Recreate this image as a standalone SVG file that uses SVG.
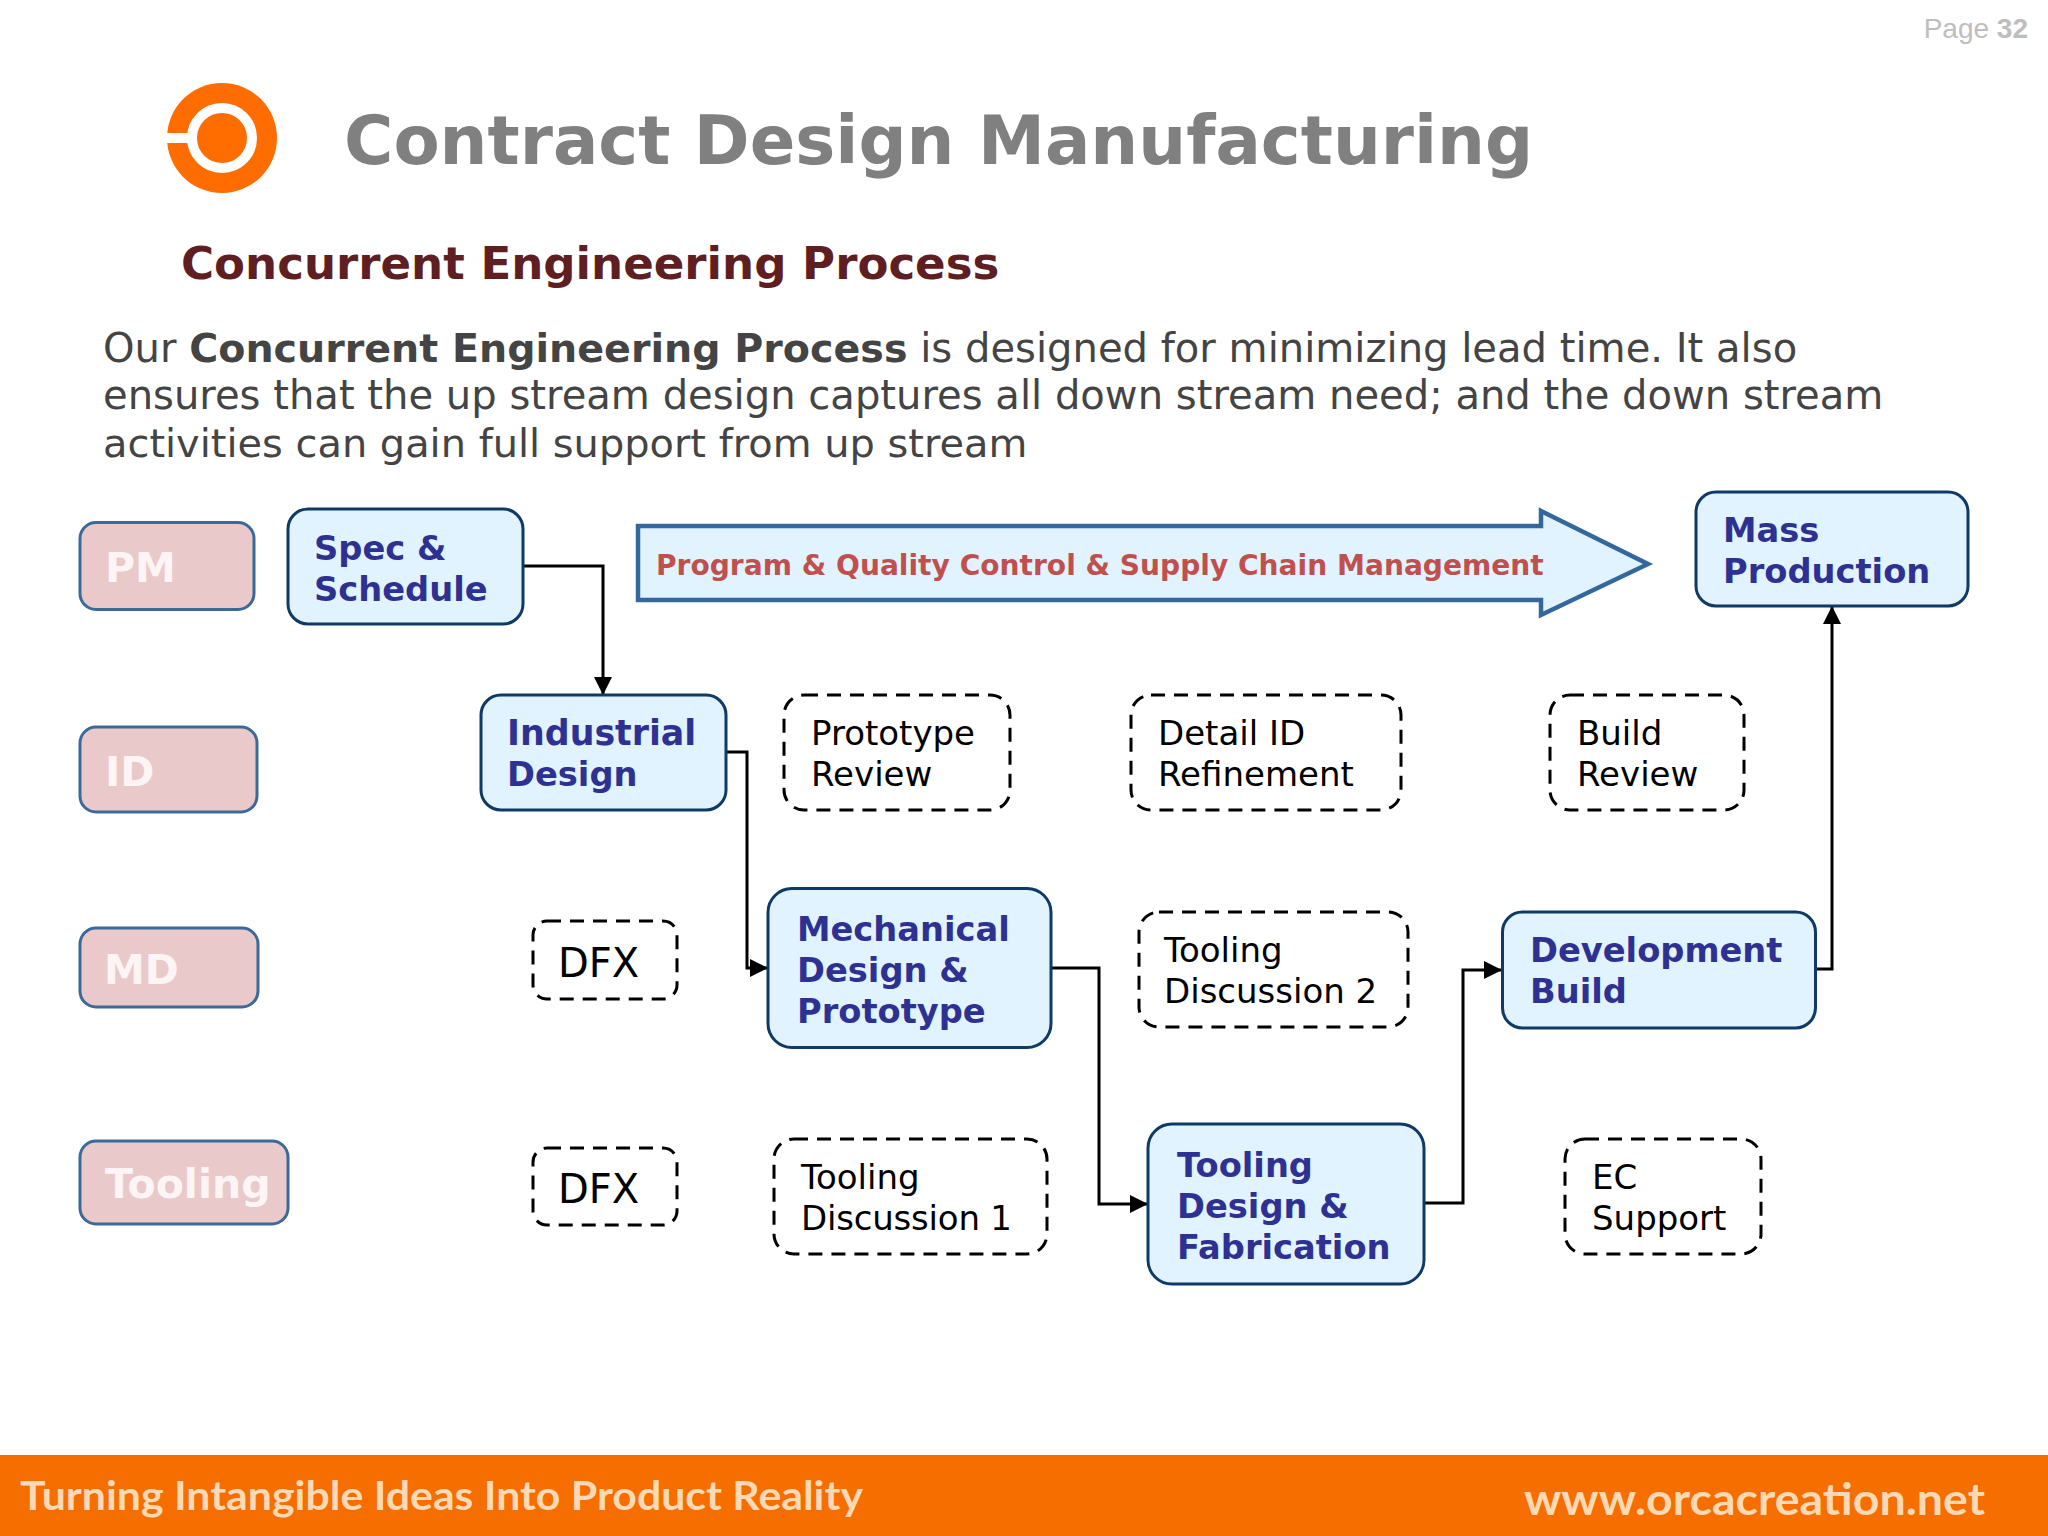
<svg xmlns="http://www.w3.org/2000/svg" width="2048" height="1536" viewBox="0 0 2048 1536">
<style>
text{font-family:"DejaVu Sans","Verdana",sans-serif}
.blue{fill:#E1F3FF;stroke:#0F3A66;stroke-width:3}
.blue-t{fill:#2E3192;font-weight:700;font-size:33.700px}
.lab{fill:#EAC9CB;stroke:#3B6A9A;stroke-width:3}
.lab-t{fill:#FDF5F5;font-weight:700;font-size:41px}
.dash{fill:#fff;stroke:#000;stroke-width:3;stroke-dasharray:14 9}
.dash-t{fill:#000;font-size:34px}
.conn{fill:none;stroke:#000;stroke-width:3}
.body{fill:#444;font-size:40.100px}
.foot{fill:#FDD9B5;font-family:"Lato","Open Sans",sans-serif;font-weight:700}
</style>
<defs>
<marker id="ah" markerUnits="userSpaceOnUse" markerWidth="18" markerHeight="18" viewBox="0 0 16 16" refX="16" refY="8" orient="auto"><path d="M0 0L16 8L0 16Z" fill="#000"/></marker>
</defs>
<rect width="2048" height="1536" fill="#fff"/>
<text x="2028" y="38" text-anchor="end" style="font-family:'Liberation Sans',sans-serif;font-size:28px;fill:#BEBEBE">Page <tspan font-weight="700">32</tspan></text>
<g id="logo">
<circle cx="222" cy="138" r="55" fill="#FF6D00"/>
<circle cx="222" cy="138" r="30" fill="none" stroke="#fff" stroke-width="10"/>
<rect x="165" y="133" width="27" height="10" fill="#fff"/>
</g>
<text x="344" y="164" style="font-size:67.300px;font-weight:700;fill:#808080">Contract Design Manufacturing</text>
<text x="181" y="279" style="font-size:45.100px;font-weight:700;fill:#5F1F22">Concurrent Engineering Process</text>
<text class="body" x="103" y="362">Our <tspan font-weight="700" font-size="39.600">Concurrent Engineering Process</tspan> is designed for minimizing lead time. It also</text>
<text class="body" x="103" y="409">ensures that the up stream design captures all down stream need; and the down stream</text>
<text class="body" x="103" y="457" style="font-size:39.900px">activities can gain full support from up stream</text>

<g id="connectors">
<path class="conn" marker-end="url(#ah)" d="M523 566H603V695"/>
<path class="conn" marker-end="url(#ah)" d="M726 752H747V968H768"/>
<path class="conn" marker-end="url(#ah)" d="M1051 968H1099V1204H1148"/>
<path class="conn" marker-end="url(#ah)" d="M1424 1203H1463V970H1502"/>
<path class="conn" marker-end="url(#ah)" d="M1815 969H1832V606"/>
</g>

<g id="label-pm"><rect class="lab" x="80" y="522.500" width="174" height="87" rx="16"/><text class="lab-t" x="105" y="582">PM</text></g>
<g id="label-id"><rect class="lab" x="80" y="727" width="177" height="85" rx="16"/><text class="lab-t" x="105" y="786">ID</text></g>
<g id="label-md"><rect class="lab" x="80" y="928" width="178" height="79" rx="16"/><text class="lab-t" x="104" y="984">MD</text></g>
<g id="label-tooling"><rect class="lab" x="80" y="1141" width="208" height="83" rx="16"/><text class="lab-t" x="105" y="1198">Tooling</text></g>

<g id="spec"><rect class="blue" x="288" y="509" width="235" height="115" rx="20"/><text class="blue-t" x="314" y="560">Spec &amp;</text><text class="blue-t" x="314" y="601">Schedule</text></g>
<g id="program"><path d="M638 526H1541V511L1648 564L1541 615V600H638Z" fill="#E1F3FF" stroke="#34689C" stroke-width="4.500"/><text x="656" y="575" style="font-size:28.100px;font-weight:700;fill:#C0504D">Program &amp; Quality Control &amp; Supply Chain Management</text></g>
<g id="mass"><rect class="blue" x="1696" y="492" width="272" height="114" rx="20"/><text class="blue-t" x="1723" y="542">Mass</text><text class="blue-t" x="1723" y="583">Production</text></g>
<g id="industrial"><rect class="blue" x="481" y="695" width="245" height="115" rx="20"/><text class="blue-t" x="507" y="745" style="font-size:34.800px">Industrial</text><text class="blue-t" x="507" y="786">Design</text></g>
<g id="proto"><rect class="dash" x="784" y="695" width="226" height="115" rx="20"/><text class="dash-t" x="811" y="745">Prototype</text><text class="dash-t" x="811" y="786">Review</text></g>
<g id="detail"><rect class="dash" x="1131" y="695" width="270" height="115" rx="20"/><text class="dash-t" x="1158" y="745">Detail ID</text><text class="dash-t" x="1158" y="786">Refinement</text></g>
<g id="build"><rect class="dash" x="1550" y="695" width="194" height="115" rx="20"/><text class="dash-t" x="1577" y="745">Build</text><text class="dash-t" x="1577" y="786">Review</text></g>
<g id="dfx1"><rect class="dash" x="533" y="921" width="144" height="78" rx="14"/><text x="558" y="977" style="font-size:40px;fill:#000">DFX</text></g>
<g id="mech"><rect class="blue" x="768" y="888.500" width="283" height="159" rx="24"/><text class="blue-t" x="797" y="941">Mechanical</text><text class="blue-t" x="797" y="982">Design &amp;</text><text class="blue-t" x="797" y="1023">Prototype</text></g>
<g id="disc2"><rect class="dash" x="1139" y="912" width="269" height="115" rx="20"/><text class="dash-t" x="1164" y="962">Tooling</text><text class="dash-t" x="1164" y="1003">Discussion 2</text></g>
<g id="dev"><rect class="blue" x="1502.500" y="912" width="313" height="116" rx="20"/><text class="blue-t" x="1530" y="962">Development</text><text class="blue-t" x="1530" y="1003">Build</text></g>
<g id="dfx2"><rect class="dash" x="533" y="1148" width="144" height="77" rx="14"/><text x="558" y="1203" style="font-size:40px;fill:#000">DFX</text></g>
<g id="disc1"><rect class="dash" x="774" y="1139" width="273" height="115" rx="20"/><text class="dash-t" x="801" y="1189">Tooling</text><text class="dash-t" x="801" y="1230" textLength="211">Discussion 1</text></g>
<g id="tooling"><rect class="blue" x="1148" y="1124" width="276" height="160" rx="24"/><text class="blue-t" x="1177" y="1177">Tooling</text><text class="blue-t" x="1177" y="1218">Design &amp;</text><text class="blue-t" x="1177" y="1259">Fabrication</text></g>
<g id="ec"><rect class="dash" x="1565" y="1139" width="196" height="115" rx="20"/><text class="dash-t" x="1592" y="1189">EC</text><text class="dash-t" x="1592" y="1230">Support</text></g>

<rect x="0" y="1455" width="2048" height="81" fill="#F76E00"/>
<text class="foot" x="20" y="1510" textLength="843" lengthAdjust="spacingAndGlyphs" style="font-size:40px">Turning Intangible Ideas Into Product Reality</text>
<text class="foot" x="1524" y="1515" textLength="461" lengthAdjust="spacingAndGlyphs" style="font-size:44px">www.orcacreation.net</text>
</svg>
